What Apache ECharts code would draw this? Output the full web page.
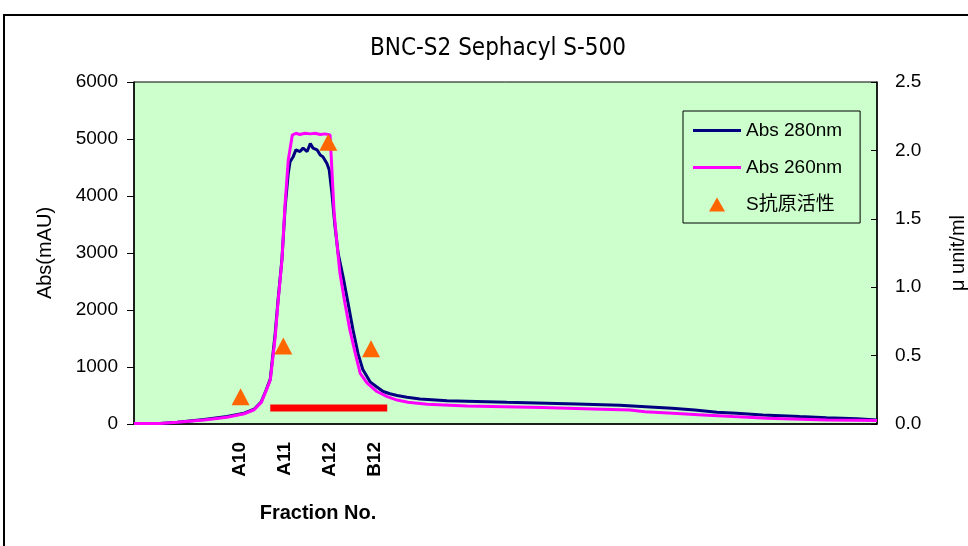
<!DOCTYPE html>
<html>
<head>
<meta charset="utf-8">
<script src="https://cdn.jsdelivr.net/npm/echarts@6/dist/echarts.min.js"></script>
<style>
html,body{margin:0;padding:0;background:#fff;}
#chart{width:968px;height:546px;}
</style>
</head>
<body>
<div id="chart"></div>
<script>
// ---- data (x in fraction-number units: A10=10, A11=11, A12=12, B12=13) ----
const fractionPos = [10, 11, 12, 13];
const fractionLabels = ['A10', 'A11', 'A12', 'B12'];

const x280 = [7.64, 8.22, 8.60, 9.20, 9.71, 10.09, 10.31, 10.47, 10.58, 10.67, 10.78, 10.84, 10.93, 11.00, 11.07, 11.11,
  11.18, 11.24, 11.33, 11.40, 11.49, 11.56, 11.62, 11.71, 11.78, 11.84, 11.93, 11.98, 12.04, 12.11, 12.18, 12.29,
  12.40, 12.51, 12.62, 12.73, 12.89, 13.04, 13.18, 13.33, 13.49, 13.71, 14.00, 14.60, 15.93, 17.49, 18.44, 19.11,
  19.60, 20.11, 20.60, 21.04, 21.62, 22.44, 23.04, 23.71, 24.16];
const abs280 = [10, 10, 30, 80, 130, 190, 260, 390, 600, 790, 1600, 2150, 2900, 3800, 4400, 4600,
  4690, 4810, 4780, 4840, 4780, 4920, 4840, 4810, 4720, 4690, 4570, 4460, 4050, 3460, 2990, 2580,
  2120, 1650, 1240, 950, 740, 650, 570, 530, 500, 470, 440, 410, 380, 350, 330, 300,
  275, 245, 205, 190, 160, 130, 110, 90, 70];

const x260 = [7.64, 8.22, 8.60, 9.20, 9.71, 10.09, 10.31, 10.47, 10.58, 10.67, 10.78, 10.84, 10.93, 11.00, 11.07, 11.16,
  11.24, 11.33, 11.44, 11.56, 11.67, 11.78, 11.89, 12.00, 12.04, 12.09, 12.16, 12.22, 12.33, 12.44, 12.56, 12.67,
  12.82, 13.04, 13.27, 13.49, 13.73, 14.16, 15.04, 16.71, 18.04, 18.67, 19.00, 19.62, 20.29, 20.96, 21.71, 23.04, 24.16];
const abs260 = [10, 10, 30, 70, 120, 180, 250, 380, 590, 770, 1530, 2120, 2880, 3870, 4630, 5070,
  5100, 5080, 5100, 5090, 5100, 5080, 5090, 5070, 4460, 3700, 3110, 2640, 2120, 1650, 1240, 890,
  720, 570, 480, 420, 380, 345, 315, 290, 260, 245, 215, 190, 160, 130, 100, 70, 60];

const activityX = [10.01, 10.96, 11.96, 12.91];
const activity = [0.20, 0.57, 2.06, 0.55];

const poolX = [10.67, 13.27];
const poolY = [280, 280];

const zip = (a, b) => a.map((v, i) => [v, b[i]]);

const FONT = "'Liberation Sans', Arial, sans-serif";
const LINE_ICON = 'path://M0 0L48 0L48 3L0 3Z';
const TRI_ICON = 'path://M0 14L8 0L16 14Z';

const chart = echarts.init(document.getElementById('chart'));
chart.setOption({
  animation: false,
  backgroundColor: '#ffffff',
  title: {
    text: 'BNC-S2 Sephacyl S-500',
    left: 493, top: 32, textAlign: 'center',
    textStyle: { fontFamily: "'Liberation Sans Narrow', 'DejaVu Sans Condensed', sans-serif", fontSize: 24, fontWeight: 'normal', color: '#000' }
  },
  graphic: [
    { type: 'rect', shape: { x: 4, y: 15, width: 1000, height: 600 }, style: { fill: 'none', stroke: '#000', lineWidth: 2 }, z: 100 },
    { type: 'text', x: 318, y: 513, style: { text: 'Fraction No.', font: "bold 20px 'Liberation Sans', Arial, sans-serif", fill: '#000', textAlign: 'center', textVerticalAlign: 'middle' } }
  ],
  legend: {
    orient: 'vertical', left: 683, top: 111,
    padding: [10, 18, 9, 10], itemWidth: 48, itemHeight: 14, itemGap: 18,
    backgroundColor: '#CCFFCC', borderColor: '#000', borderWidth: 1,
    textStyle: { fontFamily: FONT + ", 'Noto Sans CJK JP'", fontSize: 19, color: '#000' },
    data: [
      { name: 'Abs 280nm', icon: LINE_ICON },
      { name: 'Abs 260nm', icon: LINE_ICON },
      { name: 'S抗原活性', icon: TRI_ICON }
    ]
  },
  grid: { left: 134, right: 91, top: 82, bottom: 122, outerBoundsMode: 'none', containLabel: false, show: true, backgroundColor: '#CCFFCC', borderColor: '#000', borderWidth: 1 },
  xAxis: {
    type: 'value', min: 7.64, max: 24.16,
    axisLine: { show: true, lineStyle: { color: '#000', width: 1.5 } },
    axisTick: { show: false },
    splitLine: { show: false },
    axisLabel: {
      customValues: fractionPos,
      rotate: 90, margin: 18,
      fontFamily: FONT, fontSize: 19, fontWeight: 'bold', color: '#000',
      formatter: v => { const i = fractionPos.indexOf(Math.round(v)); return i >= 0 ? fractionLabels[i] : ''; }
    }
  },
  yAxis: [
    {
      type: 'value', min: 0, max: 6000, interval: 1000, position: 'left',
      name: 'Abs(mAU)', nameLocation: 'middle', nameRotate: 90, nameGap: 79,
      nameTextStyle: { fontFamily: FONT, fontSize: 20, color: '#000' },
      axisLine: { show: true, lineStyle: { color: '#000', width: 1.5 } },
      axisTick: { show: true, inside: false, length: 7, lineStyle: { color: '#000' } },
      splitLine: { show: false },
      axisLabel: { margin: 16, fontFamily: FONT, fontSize: 19, color: '#000', formatter: v => String(v) }
    },
    {
      type: 'value', min: 0, max: 2.5, interval: 0.5, position: 'right',
      name: 'μ unit/ml', nameLocation: 'middle', nameRotate: 90, nameGap: 71,
      nameTextStyle: { fontFamily: FONT, fontSize: 20, color: '#000' },
      axisLine: { show: true, lineStyle: { color: '#000', width: 1.5 } },
      axisTick: { show: true, inside: true, length: 6, lineStyle: { color: '#000' } },
      splitLine: { show: false },
      axisLabel: { margin: 18, fontFamily: FONT, fontSize: 19, color: '#000', formatter: v => v.toFixed(1) }
    }
  ],
  series: [
    {
      name: 'Abs 280nm', type: 'line', yAxisIndex: 0, data: zip(x280, abs280),
      symbol: 'none', lineStyle: { color: '#000080', width: 3 }, itemStyle: { color: '#000080' }, z: 2
    },
    {
      name: 'Abs 260nm', type: 'line', yAxisIndex: 0, data: zip(x260, abs260),
      symbol: 'none', lineStyle: { color: '#FF00FF', width: 3 }, itemStyle: { color: '#FF00FF' }, z: 3
    },
    {
      name: 'pool', type: 'line', yAxisIndex: 0, data: zip(poolX, poolY),
      symbol: 'none', lineStyle: { color: '#FF0000', width: 7, cap: 'butt' }, z: 4
    },
    {
      name: 'S抗原活性', type: 'scatter', yAxisIndex: 1, data: zip(activityX, activity),
      symbol: 'triangle', symbolSize: [18, 17], itemStyle: { color: '#FF6600', opacity: 1 }, z: 5
    }
  ]
});
</script>
</body>
</html>
